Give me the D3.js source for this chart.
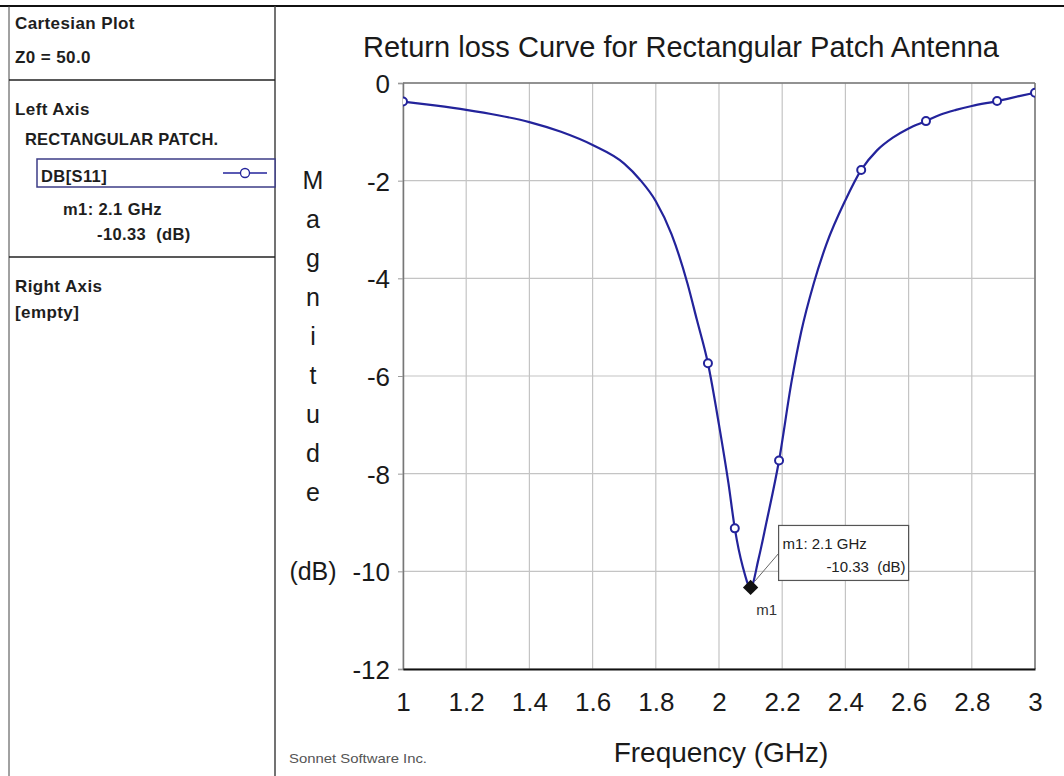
<!DOCTYPE html>
<html>
<head>
<meta charset="utf-8">
<script src="https://cdn.jsdelivr.net/npm/d3@7"></script>
<style>
  html, body { margin: 0; padding: 0; background: #ffffff; }
  svg { display: block; }
</style>
</head>
<body>
<svg id="chart" width="1064" height="776"></svg>
<script>
// ---------------- data ----------------
const freqGHz = [1.00, 1.10, 1.20, 1.30, 1.40, 1.50, 1.60, 1.70, 1.75, 1.80, 1.85, 1.90, 1.93, 1.965,
                 2.00, 2.03, 2.05, 2.075, 2.10, 2.125, 2.15, 2.19, 2.23, 2.26, 2.30, 2.34, 2.40,
                 2.45, 2.50, 2.55, 2.60, 2.655, 2.70, 2.75, 2.80, 2.88, 2.95, 3.00];
const s11dB   = [-0.38, -0.46, -0.55, -0.66, -0.80, -1.00, -1.27, -1.65, -1.98, -2.42, -3.10, -4.10, -4.85, -5.74,
                 -7.00, -8.20, -9.12, -9.90, -10.33, -9.75, -9.00, -7.73, -6.10, -5.10, -4.10, -3.30, -2.40,
                 -1.78, -1.38, -1.12, -0.93, -0.78, -0.65, -0.55, -0.47, -0.37, -0.27, -0.20];
const symbolFreqGHz = [1.00, 1.965, 2.05, 2.19, 2.45, 2.655, 2.88, 3.00];
const symbolDB      = [-0.38, -5.74, -9.12, -7.73, -1.78, -0.78, -0.37, -0.20];
const markerName = "m1";
const markerFreq = 2.1;
const markerDB = -10.33;
const xTicks = [1, 1.2, 1.4, 1.6, 1.8, 2, 2.2, 2.4, 2.6, 2.8, 3];
const yTicks = [0, -2, -4, -6, -8, -10, -12];
const yLabelLetters = ["M", "a", "g", "n", "i", "t", "u", "d", "e"];
const panelLines = ["Cartesian Plot", "Z0 = 50.0", "Left Axis", "RECTANGULAR PATCH.", "DB[S11]",
                    "m1: 2.1 GHz", "-10.33  (dB)", "Right Axis", "[empty]"];

// ---------------- layout ----------------
const svg = d3.select("#chart");
const plot = { left: 403, right: 1035, top: 83, bottom: 669 };
const FONT = "'Liberation Sans', Arial, sans-serif";
const curveColor = "#23239b";

const x = d3.scaleLinear().domain([1, 3]).range([plot.left, plot.right]);
const y = d3.scaleLinear().domain([-12, 0]).range([plot.bottom, plot.top]);

// top border line of whole picture
svg.append("line").attr("x1", 0).attr("x2", 1064).attr("y1", 6).attr("y2", 6)
  .attr("stroke", "#111").attr("stroke-width", 2);

// ---------------- left panel ----------------
const panel = svg.append("g").attr("font-family", FONT).attr("fill", "#1a1a1a");
panel.append("line").attr("x1", 9).attr("x2", 9).attr("y1", 6).attr("y2", 776).attr("stroke", "#444").attr("stroke-width", 1);
panel.append("line").attr("x1", 275).attr("x2", 275).attr("y1", 6).attr("y2", 776).attr("stroke", "#444").attr("stroke-width", 1.5);
panel.append("line").attr("x1", 9).attr("x2", 275).attr("y1", 80).attr("y2", 80).attr("stroke", "#222").attr("stroke-width", 1.5);
panel.append("line").attr("x1", 9).attr("x2", 275).attr("y1", 257).attr("y2", 257).attr("stroke", "#222").attr("stroke-width", 1.5);

const ptxt = (t, px, py, opts = {}) => panel.append("text")
  .attr("x", px).attr("y", py).text(t).attr("xml:space", "preserve")
  .attr("font-size", opts.size || 17).attr("font-weight", "bold")
  .attr("letter-spacing", opts.ls != null ? opts.ls : 0.4)
  .attr("fill", opts.fill || "#1e1e1e");

ptxt(panelLines[0], 15, 29);
ptxt(panelLines[1], 15, 63);
ptxt(panelLines[2], 15, 115);
ptxt(panelLines[3], 25, 145, { size: 16.5, ls: 0.2 });
// legend box
panel.append("rect").attr("x", 37).attr("y", 159).attr("width", 238).attr("height", 28)
  .attr("fill", "#fff").attr("stroke", "#3c3c86").attr("stroke-width", 1.5);
ptxt(panelLines[4], 41, 182, { size: 16.5 });
panel.append("line").attr("x1", 223).attr("x2", 267).attr("y1", 173).attr("y2", 173)
  .attr("stroke", curveColor).attr("stroke-width", 1.3);
panel.append("circle").attr("cx", 245).attr("cy", 173).attr("r", 4.5)
  .attr("fill", "#fff").attr("stroke", curveColor).attr("stroke-width", 1.3);
ptxt(panelLines[5], 63, 215, { size: 16.5 });
ptxt(panelLines[6], 97, 240, { size: 16.5 });
ptxt(panelLines[7], 15, 292);
ptxt(panelLines[8], 15, 318);

// ---------------- plot area ----------------
const g = svg.append("g").attr("font-family", FONT);

// title
g.append("text").attr("x", 681).attr("y", 57)
  .attr("text-anchor", "middle").attr("font-size", 29).attr("fill", "#1a1a1a")
  .attr("textLength", 636).attr("lengthAdjust", "spacingAndGlyphs")
  .text("Return loss Curve for Rectangular Patch Antenna");

// grid
g.append("g").selectAll("line").data(xTicks).join("line")
  .attr("x1", d => x(d)).attr("x2", d => x(d)).attr("y1", plot.top).attr("y2", plot.bottom)
  .attr("stroke", "#c4c4c4").attr("stroke-width", 1.2);
g.append("g").selectAll("line").data(yTicks).join("line")
  .attr("x1", plot.left).attr("x2", plot.right).attr("y1", d => y(d)).attr("y2", d => y(d))
  .attr("stroke", "#c4c4c4").attr("stroke-width", 1.2);

// frame
g.append("line").attr("x1", plot.left).attr("x2", plot.right).attr("y1", plot.top).attr("y2", plot.top)
  .attr("stroke", "#777").attr("stroke-width", 1.5);
g.append("line").attr("x1", plot.right).attr("x2", plot.right).attr("y1", plot.top).attr("y2", plot.bottom)
  .attr("stroke", "#777").attr("stroke-width", 1.5);

// axes
const yAxis = d3.axisLeft(y).tickValues(yTicks).tickSize(5).tickPadding(8).tickFormat(d => String(d));
const yg = g.append("g").attr("transform", `translate(${plot.left},0)`).call(yAxis);
yg.select(".domain").attr("stroke", "#777").attr("stroke-width", 1.5);
yg.selectAll(".tick line").attr("stroke", "#999");
yg.selectAll("text").attr("font-size", 26).attr("fill", "#1a1a1a").attr("font-family", FONT).attr("dy", "0.36em");

const xAxis = d3.axisBottom(x).tickValues(xTicks).tickSize(0).tickPadding(33).tickFormat(d => String(d));
const xg = g.append("g").attr("transform", `translate(0,${plot.bottom})`).call(xAxis);
xg.select(".domain").attr("stroke", "#111").attr("stroke-width", 2.2);
xg.selectAll("text").attr("font-size", 26).attr("fill", "#1a1a1a").attr("font-family", FONT).attr("dy", "0.36em");

// y axis label (stacked letters)
const yLab = g.append("g").attr("font-size", 25).attr("fill", "#1a1a1a").attr("text-anchor", "middle");
yLabelLetters.forEach((c, i) => {
  yLab.append("text").attr("x", 313).attr("y", 180 + i * 39).attr("dy", "0.36em").text(c);
});
yLab.append("text").attr("x", 313).attr("y", y(-10)).attr("dy", "0.36em").text("(dB)");

// x axis label
g.append("text").attr("x", (plot.left + plot.right) / 2 + 2).attr("y", 762)
  .attr("text-anchor", "middle").attr("font-size", 28).attr("fill", "#1a1a1a")
  .text("Frequency (GHz)");

// footer
g.append("text").attr("x", 289).attr("y", 763).attr("font-size", 13).attr("fill", "#555")
  .attr("textLength", 138).attr("lengthAdjust", "spacingAndGlyphs")
  .text("Sonnet Software Inc.");

// clip
svg.append("defs").append("clipPath").attr("id", "plotclip")
  .append("rect").attr("x", plot.left).attr("y", plot.top - 1)
  .attr("width", plot.right - plot.left).attr("height", plot.bottom - plot.top + 1);

const data = freqGHz.map((f, i) => ({ f, v: s11dB[i] }));
const line = d3.line().x(d => x(d.f)).y(d => y(d.v)).curve(d3.curveMonotoneX);
const cg = g.append("g").attr("clip-path", "url(#plotclip)");
cg.append("path").datum(data).attr("d", line)
  .attr("fill", "none").attr("stroke", curveColor).attr("stroke-width", 2.2);

const sym = symbolFreqGHz.map((f, i) => ({ f, v: symbolDB[i] }));
cg.selectAll("circle.sym").data(sym).join("circle").attr("class", "sym")
  .attr("cx", d => x(d.f)).attr("cy", d => y(d.v)).attr("r", 4)
  .attr("fill", "#fff").attr("stroke", curveColor).attr("stroke-width", 2);

// marker m1
const mx = x(markerFreq), my = y(markerDB);
const boxX = mx + 28, boxY = my - 62, boxW = 130, boxH = 55;
g.append("line").attr("x1", mx + 4).attr("y1", my - 6).attr("x2", boxX).attr("y2", boxY + 28)
  .attr("stroke", "#666").attr("stroke-width", 1);
g.append("rect").attr("x", boxX).attr("y", boxY).attr("width", boxW).attr("height", boxH)
  .attr("fill", "#fff").attr("stroke", "#555").attr("stroke-width", 1.2);
g.append("text").attr("x", boxX + 4).attr("y", boxY + 24).attr("font-size", 15).attr("fill", "#222")
  .text(`${markerName}: ${markerFreq} GHz`);
g.append("text").attr("x", boxX + boxW - 3).attr("y", boxY + 47).attr("font-size", 15).attr("fill", "#222")
  .attr("text-anchor", "end").attr("xml:space", "preserve").text(`${markerDB.toFixed(2)}  (dB)`);
g.append("path").attr("d", d3.symbol(d3.symbolDiamond2, 150)())
  .attr("transform", `translate(${mx},${my})`).attr("fill", "#111");
g.append("text").attr("x", mx + 16).attr("y", my + 28).attr("font-size", 15).attr("fill", "#333")
  .attr("text-anchor", "middle").text(markerName);
</script>
</body>
</html>
